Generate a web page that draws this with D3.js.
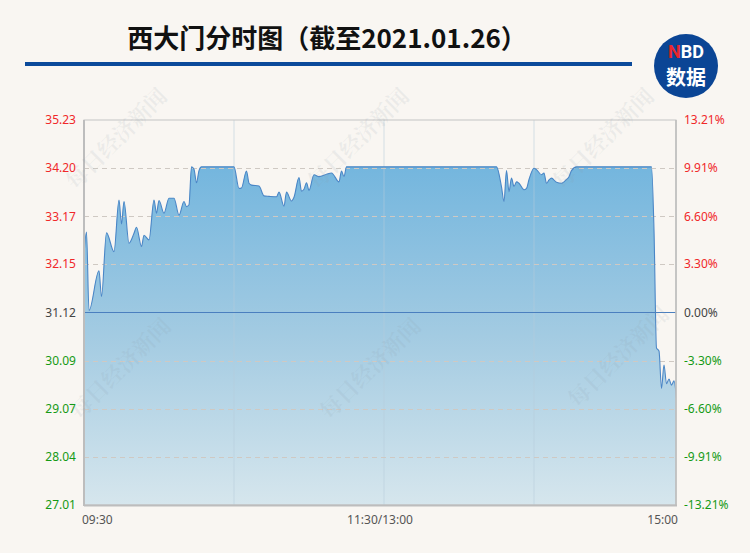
<!DOCTYPE html>
<html><head><meta charset="utf-8">
<script src="https://cdn.jsdelivr.net/npm/d3@7"></script>
<style>
html,body{margin:0;padding:0;background:#f9f6f2;}
svg{display:block;font-family:"Noto Sans","Noto Sans CJK SC",sans-serif;}
</style></head>
<body><svg id="c" width="750" height="553"></svg>
<script>
// ---- data ----
const minutes = [0,1,2,6,7,9,12,14,15,16,18,20,21,23,24,26,28,29,30,32,34,36,38,40,41,42,43,44,45,46,47,60,62,63,65,66,67,70,72,74,77,78,80,81,83,84,86,87,88,89,90,92,94,97,99,102,103,104,105,165,167,168,169,170,171,172,173,174,176,177,178,180,181,183,184,185,186,187,189,191,192,193,194,195,197,227,228,229,230,231,232,233,234,235,236,237];
const prices = [32.35,32.84,31.16,32.01,31.46,32.82,32.42,33.52,33.01,33.49,32.60,32.81,32.94,32.53,32.77,32.67,33.52,33.24,33.51,33.24,33.56,33.56,33.20,33.49,33.38,33.42,34.23,34.18,33.89,34.15,34.23,34.23,33.77,33.78,34.14,33.88,33.84,33.82,33.61,33.60,33.59,33.69,33.39,33.69,33.50,33.58,34.00,33.71,33.75,33.89,33.73,34.06,34.02,34.07,34.10,33.91,34.14,34.02,34.23,34.23,33.80,33.49,34.15,33.70,33.99,33.81,33.91,33.88,33.74,33.77,33.96,34.20,34.17,34.06,34.10,33.88,33.95,33.99,33.90,33.88,33.91,33.96,34.02,34.15,34.23,34.23,32.88,30.36,30.30,29.50,30.00,29.60,29.70,29.57,29.66,29.29];
const preClose = 31.12;
const leftTicks = [35.23,34.20,33.17,32.15,31.12,30.09,29.07,28.04,27.01];
const rightTicks = ["13.21%","9.91%","6.60%","3.30%","0.00%","-3.30%","-6.60%","-9.91%","-13.21%"];
const timeTicks = [{t:0,label:"09:30"},{t:120,label:"11:30/13:00"},{t:240,label:"15:00"}];
const vGridMinutes = [60,120,180];
const titleText = "西大门分时图（截至2021.01.26）";
const watermark = "每日经济新闻";

// ---- layout ----
const svg = d3.select("#c");
const L = 84, R = 676, T = 120, B = 505;
const x = d3.scaleLinear().domain([0,240]).range([L, 684]);
const y = d3.scaleLinear().domain([27.01,35.23]).range([B, T]);
const data = minutes.map((m,i)=>({t:m,p:prices[i]}));

// watermarks (behind)
const wmBack = [[118,140],[360,140],[605,140],[122,370],[372,370],[620,358]];

// title
svg.append("text").attr("x",327).attr("y",48).attr("text-anchor","middle")
  .attr("font-family","'Noto Sans CJK SC',sans-serif").attr("font-weight","bold")
  .attr("font-size",26).attr("fill","#111").text(titleText);
svg.append("rect").attr("x",25).attr("y",62).attr("width",607).attr("height",4).attr("fill","#0b4a9b");

// logo
const lg = svg.append("g").attr("transform","translate(686,66)");
lg.append("circle").attr("r",32).attr("fill","#0b4595");
const nbd = lg.append("text").attr("y",-8).attr("text-anchor","middle").attr("font-family","Roboto,'Noto Sans',sans-serif")
  .attr("font-weight","bold").attr("font-size",18);
nbd.append("tspan").attr("fill","#e8272c").text("N");
nbd.append("tspan").attr("fill","#fff").text("BD");
lg.append("text").attr("y",19).attr("text-anchor","middle").attr("font-family","'Noto Sans CJK SC',sans-serif")
  .attr("font-weight","bold").attr("font-size",20).attr("fill","#fff").text("数据");

// gradient
const defs = svg.append("defs");
const gr = defs.append("linearGradient").attr("id","fillg").attr("gradientUnits","userSpaceOnUse")
  .attr("x1",0).attr("y1",y(34.23)).attr("x2",0).attr("y2",B);
gr.append("stop").attr("offset","0%").attr("stop-color","#74b6de");
gr.append("stop").attr("offset","50%").attr("stop-color","#a3cbe2");
gr.append("stop").attr("offset","100%").attr("stop-color","#d6e6ed");
defs.append("clipPath").attr("id","clip").append("rect").attr("x",L).attr("y",T).attr("width",R-L).attr("height",B-T);

const plot = svg.append("g").attr("clip-path","url(#clip)");
const curve = d3.curveMonotoneX;
plot.append("path").datum(data)
  .attr("d", d3.area().x(d=>x(d.t)).y0(B).y1(d=>y(d.p)).curve(curve))
  .attr("fill","url(#fillg)");

// vertical grid
plot.selectAll(".vg").data(vGridMinutes).enter().append("line")
  .attr("x1",d=>x(d)).attr("x2",d=>x(d)).attr("y1",T).attr("y2",B)
  .attr("stroke","#b8cedd").attr("stroke-opacity",0.55).attr("stroke-width",1);

// horizontal dashed grid
plot.selectAll(".hg").data(leftTicks.filter(v=>v!==preClose && v!==35.23 && v!==27.01)).enter().append("line")
  .attr("x1",L).attr("x2",R).attr("y1",d=>Math.round(y(d))+0.5).attr("y2",d=>Math.round(y(d))+0.5)
  .attr("stroke","#cfc9c3").attr("stroke-width",1).attr("stroke-dasharray","5,4");

// line
plot.append("path").datum(data)
  .attr("d", d3.line().x(d=>x(d.t)).y(d=>y(d.p)).curve(curve))
  .attr("fill","none").attr("stroke","#4a86c6").attr("stroke-width",1.1);

// zero line
svg.append("line").attr("x1",L).attr("x2",R).attr("y1",Math.round(y(preClose))+0.5).attr("y2",Math.round(y(preClose))+0.5)
  .attr("stroke","#4a7fbf").attr("stroke-width",1);

// frame
svg.append("rect").attr("x",L).attr("y",T).attr("width",R-L).attr("height",B-T)
  .attr("fill","none").attr("stroke","#c4c4c4").attr("stroke-width",1);
svg.append("line").attr("x1",L).attr("x2",L).attr("y1",T).attr("y2",B+1).attr("stroke","#bdbdbd").attr("stroke-width",2);
svg.append("line").attr("x1",L).attr("x2",R+1).attr("y1",B+0.5).attr("y2",B+0.5).attr("stroke","#bdbdbd").attr("stroke-width",2);
svg.append("line").attr("x1",R).attr("x2",R).attr("y1",T).attr("y2",B+1).attr("stroke","#bdbdbd").attr("stroke-width",1.5);

// watermarks
svg.selectAll(".wm").data(wmBack).enter().append("text")
  .attr("transform",d=>`translate(${d[0]},${d[1]}) rotate(-45)`)
  .attr("text-anchor","middle").attr("dominant-baseline","middle")
  .attr("font-family","'Noto Serif CJK SC','Noto Sans CJK SC',serif").attr("font-weight","bold")
  .attr("font-size",22).attr("fill","#8a9aa6").attr("fill-opacity",0.12).text(watermark);

// left axis labels
const colorFor = i => i<4 ? "#f0282a" : (i===4 ? "#444" : "#159a15");
svg.selectAll(".ll").data(leftTicks).enter().append("text")
  .attr("x",76).attr("y",d=>y(d)).attr("dy","0.35em").attr("text-anchor","end")
  .attr("font-size",12).attr("fill",(d,i)=>colorFor(i)).text(d=>d.toFixed(2));
svg.selectAll(".rl").data(rightTicks).enter().append("text")
  .attr("x",684).attr("y",(d,i)=>y(leftTicks[i])).attr("dy","0.35em").attr("text-anchor","start")
  .attr("font-size",12).attr("fill",(d,i)=>colorFor(i)).text(d=>d);

// time labels
svg.selectAll(".tl").data(timeTicks).enter().append("text")
  .attr("x",d=> d.t===0 ? L-2 : (d.t===240 ? R+2 : x(d.t)-4))
  .attr("y",524).attr("text-anchor",d=> d.t===0 ? "start" : (d.t===240 ? "end" : "middle"))
  .attr("font-size",12).attr("fill","#555").text(d=>d.label);
</script></body></html>
